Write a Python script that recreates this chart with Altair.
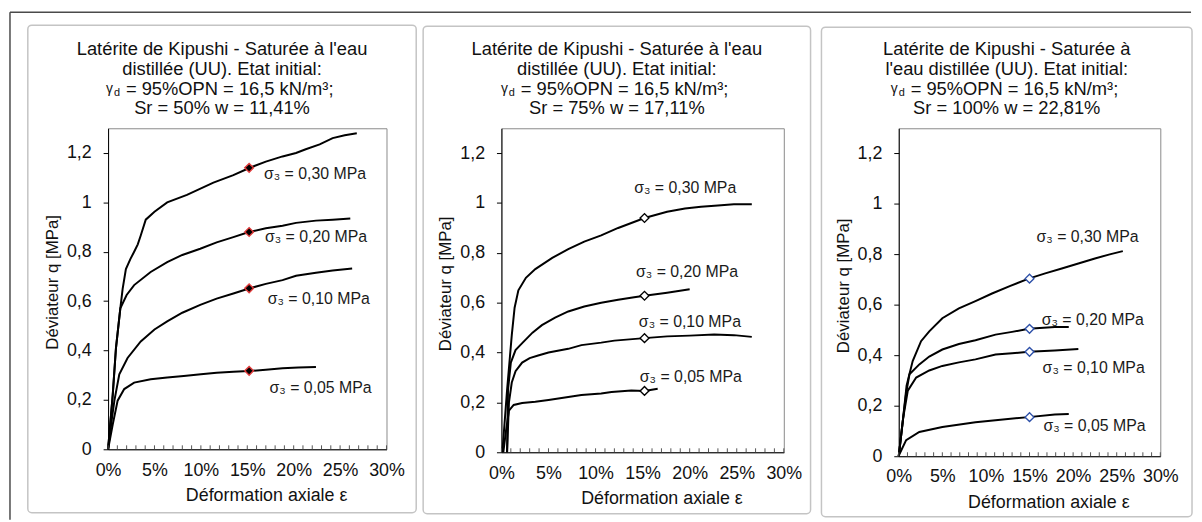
import altair as alt
import pandas as pd

FONT = "Liberation Sans"

STRAIN_TICKS = [0, 5, 10, 15, 20, 25, 30]
Q_TICKS = [0, 0.2, 0.4, 0.6, 0.8, 1.0, 1.2]
MINOR_TICKS = list(range(0, 31))
SIGMA_LABELS = ["σ₃ = 0,30 MPa", "σ₃ = 0,20 MPa", "σ₃ = 0,10 MPa", "σ₃ = 0,05 MPa"]

X_TITLE = "Déformation axiale ε"
Y_TITLE = "Déviateur q [MPa]"

P1_TITLE = ["Latérite de Kipushi - Saturée à l'eau", "distillée (UU). Etat initial:",
            "= 95%OPN = 16,5 kN/m³;", "Sr = 50% w = 11,41%"]
P2_TITLE = ["Latérite de Kipushi - Saturée à l'eau", "distillée (UU). Etat initial:",
            "= 95%OPN = 16,5 kN/m³;", "Sr = 75% w = 17,11%"]
P3_TITLE = ["Latérite de Kipushi - Saturée à", "l'eau distillée (UU). Etat initial:",
            "= 95%OPN = 16,5 kN/m³;", "Sr = 100% w = 22,81%"]

# ---- Panel 1 : Sr = 50 % ----
P1_S030_X = [0, 0.5, 0.85, 1.32, 1.57, 1.92, 2.4, 2.81, 3.2, 3.52, 4.06, 5.0, 6.37, 8.5, 11.35, 13.5, 15.27, 17.0, 18.8, 20.25, 21.3, 22.8, 24.2, 25.5, 26.8]
P1_S030_Y = [0, 0.22, 0.41, 0.571, 0.65, 0.73, 0.77, 0.80, 0.83, 0.866, 0.93, 0.962, 1.0, 1.03, 1.08, 1.11, 1.14, 1.165, 1.186, 1.2, 1.215, 1.235, 1.26, 1.272, 1.28]
P1_S020_X = [0, 0.5, 0.85, 1.32, 2.0, 2.81, 4.59, 6.37, 8.0, 9.93, 11.7, 13.5, 15.1, 17.0, 18.8, 20.25, 22.4, 24.2, 26.1]
P1_S020_Y = [0, 0.22, 0.41, 0.571, 0.625, 0.665, 0.718, 0.758, 0.787, 0.812, 0.838, 0.859, 0.879, 0.895, 0.905, 0.917, 0.926, 0.93, 0.935]
P1_S010_X = [0, 0.4, 0.68, 1.21, 2.1, 3.52, 5.0, 6.37, 8.0, 9.93, 11.7, 13.5, 15.27, 17.0, 18.8, 20.25, 22.4, 24.2, 26.3]
P1_S010_Y = [0, 0.12, 0.197, 0.304, 0.37, 0.437, 0.485, 0.518, 0.553, 0.585, 0.61, 0.631, 0.652, 0.67, 0.685, 0.703, 0.715, 0.724, 0.732]
P1_S005_X = [0, 0.5, 1.03, 1.74, 2.81, 4.59, 6.37, 8.15, 10.0, 11.7, 13.5, 15.16, 17.0, 18.8, 20.5, 22.4]
P1_S005_Y = [0, 0.1, 0.197, 0.244, 0.27, 0.284, 0.291, 0.297, 0.304, 0.31, 0.314, 0.317, 0.322, 0.328, 0.331, 0.333]
P1_MARK_X = [15.2, 15.2, 15.2, 15.2]
P1_MARK_Q = [1.14, 0.88, 0.652, 0.318]
P1_LABEL_X = [16.8, 16.9, 17.2, 17.4]
P1_LABEL_Q = [1.116, 0.859, 0.61, 0.249]

# ---- Panel 2 : Sr = 75 % ----
P2_S030_X = [0.1, 0.6, 1.1, 1.4, 1.8, 2.6, 3.6, 5.4, 7.1, 8.8, 10.6, 12.4, 15.2, 17.6, 19.5, 21.2, 23.0, 24.7, 26.6]
P2_S030_Y = [0, 0.25, 0.47, 0.58, 0.65, 0.70, 0.735, 0.78, 0.815, 0.845, 0.87, 0.9, 0.94, 0.965, 0.978, 0.985, 0.99, 0.995, 0.995]
P2_S020_X = [0.6, 0.7, 1.0, 1.5, 2.0, 3.3, 4.3, 5.7, 7.1, 8.8, 10.6, 12.4, 14.1, 15.2, 17.6, 20.0]
P2_S020_Y = [0, 0.25, 0.36, 0.41, 0.43, 0.48, 0.51, 0.54, 0.565, 0.585, 0.6, 0.612, 0.622, 0.628, 0.64, 0.654]
P2_S010_X = [0.6, 0.8, 1.1, 1.5, 2.2, 3.0, 3.9, 5.0, 7.1, 8.5, 10.6, 12.0, 15.2, 17.6, 20.0, 22.6, 24.7, 26.6]
P2_S010_Y = [0, 0.2, 0.28, 0.325, 0.36, 0.378, 0.388, 0.40, 0.415, 0.43, 0.44, 0.448, 0.458, 0.465, 0.468, 0.473, 0.47, 0.463]
P2_S005_X = [0.2, 0.5, 0.8, 1.3, 2.2, 3.6, 5.0, 7.1, 8.5, 10.6, 11.7, 13.8, 15.2, 16.6]
P2_S005_Y = [0, 0.09, 0.167, 0.19, 0.198, 0.203, 0.21, 0.222, 0.23, 0.236, 0.242, 0.248, 0.246, 0.255]
P2_MARK_X = [15.2, 15.2, 15.2, 15.2]
P2_MARK_Q = [0.94, 0.628, 0.458, 0.246]
P2_LABEL_X = [14.1, 14.3, 14.6, 14.7]
P2_LABEL_Q = [1.059, 0.724, 0.522, 0.302]

# ---- Panel 3 : Sr = 100 % ----
P3_S030_X = [0, 0.5, 0.9, 1.6, 2.56, 3.5, 5.0, 6.9, 8.8, 10.7, 12.8, 14.9, 16.8, 18.7, 20.6, 22.5, 24.2, 25.7]
P3_S030_Y = [0, 0.15, 0.28, 0.377, 0.456, 0.495, 0.547, 0.586, 0.615, 0.645, 0.675, 0.704, 0.725, 0.744, 0.764, 0.784, 0.8, 0.813]
P3_S020_X = [0, 0.5, 0.85, 1.23, 2.36, 3.5, 5.0, 6.9, 8.8, 11.1, 13.0, 14.9, 17.9, 19.5]
P3_S020_Y = [0, 0.15, 0.25, 0.325, 0.364, 0.395, 0.423, 0.445, 0.46, 0.482, 0.493, 0.505, 0.512, 0.512]
P3_S010_X = [0, 0.5, 1.04, 2.0, 3.5, 5.0, 6.9, 8.8, 11.1, 13.0, 14.9, 17.9, 20.6]
P3_S010_Y = [0, 0.15, 0.26, 0.312, 0.34, 0.358, 0.372, 0.384, 0.403, 0.408, 0.414, 0.419, 0.425]
P3_S005_X = [0, 0.1, 0.85, 2.36, 5.0, 8.8, 11.1, 14.9, 17.9, 19.5]
P3_S005_Y = [0, 0.01, 0.064, 0.096, 0.116, 0.135, 0.143, 0.155, 0.165, 0.167]
P3_MARK_X = [15.0, 15.0, 15.0, 15.0]
P3_MARK_Q = [0.704, 0.505, 0.414, 0.155]
P3_LABEL_X = [15.8, 16.4, 16.5, 16.6]
P3_LABEL_Q = [0.869, 0.541, 0.35, 0.121]

ONE = pd.DataFrame({"k": [0]})


def curves_df(xs_list, ys_list):
    rows = []
    for k, (xs, ys) in enumerate(zip(xs_list, ys_list)):
        for i, (x, y) in enumerate(zip(xs, ys)):
            rows.append({"strain": x, "q": y, "curve": SIGMA_LABELS[k], "idx": i})
    return pd.DataFrame(rows)


def panel(title, curves, mark_x, mark_q, lab_x, lab_q, W, H, cx, box, mfill, mstroke, frame=None):
    xs = alt.Scale(domain=[0, 30], nice=False, zero=False)
    ys = alt.Scale(domain=[0, 1.3], nice=False, zero=False)
    xaxis = alt.Axis(values=STRAIN_TICKS, labelExpr="datum.value + '%'", ticks=False, tickSize=0,
                     labelPadding=12, labelFontSize=18, labelFont=FONT, labelColor="#111",
                     domainColor="black", domainWidth=1, grid=False, labelFlush=False,
                     labelOverlap=False, title=X_TITLE, titleFont=FONT, titleFontSize=18,
                     titleFontWeight="normal", titleColor="#111", titleX=W / 2 + 19, titleY=47,
                     titleBaseline="middle", titleAlign="center")
    yaxis = alt.Axis(values=Q_TICKS, labelExpr="replace(format(datum.value, '.1~f'), '.', ',')",
                     tickSize=5, tickColor="black", labelPadding=12, labelFontSize=18,
                     labelFont=FONT, labelColor="#111", domainColor="black", domainWidth=1,
                     grid=False, labelFlush=False, labelOverlap=False, title=Y_TITLE,
                     titleFont=FONT, titleFontSize=17, titleFontWeight="normal",
                     titleColor="#111", titleX=-56, titleY=H / 2 - 7,
                     titleBaseline="middle", titleAlign="center")
    X = lambda: alt.X("strain:Q", scale=xs, axis=xaxis)
    Y = lambda: alt.Y("q:Q", scale=ys, axis=yaxis)
    layers = []
    bx0, bx1, by0, by1 = box
    layers.append(alt.Chart(ONE).mark_rect(fillOpacity=0, stroke="#c4c4c4", strokeWidth=1.5,
                                           cornerRadius=4).encode(
        x=alt.value(bx0), x2=alt.value(bx1), y=alt.value(by0), y2=alt.value(by1)))
    if frame is not None:
        fx0, fx1, fy0, fy1 = frame
        layers.append(alt.Chart(ONE).mark_rule(color="#4a4a4a", strokeWidth=1.5).encode(
            x=alt.value(fx0), y=alt.value(fy0), y2=alt.value(fy1)))
        layers.append(alt.Chart(ONE).mark_rule(color="#4a4a4a", strokeWidth=1.5).encode(
            x=alt.value(fx0), x2=alt.value(fx1), y=alt.value(fy0)))
    layers.append(alt.Chart(curves).mark_line(color="black", strokeWidth=2).encode(
        x=X(), y=Y(), detail="curve:N", order="idx:Q"))
    layers.append(alt.Chart(pd.DataFrame({"strain": MINOR_TICKS})).mark_rule(
        color="#555", strokeWidth=1).encode(
        x=X(), y=alt.value(H), y2=alt.value(H - 4)))
    mdf = pd.DataFrame({"strain": mark_x, "q": mark_q})
    layers.append(alt.Chart(mdf).mark_point(shape="diamond", filled=True, fill=mfill,
                                            stroke=mstroke, strokeWidth=1.4, size=78,
                                            opacity=1).encode(x=X(), y=Y()))
    ldf = pd.DataFrame({"strain": lab_x, "q": lab_q, "label": SIGMA_LABELS})
    layers.append(alt.Chart(ldf).mark_text(align="left", baseline="middle", fontSize=16,
                                           font=FONT, color="#1a1a1a").encode(
        x=X(), y=Y(), text="label:N"))
    # title block
    for ly, line in zip([-80, -60, -20], [title[0], title[1], title[3]]):
        layers.append(alt.Chart(ONE).mark_text(align="center", baseline="middle", fontSize=18.5,
                                               font=FONT, color="#111").encode(
            x=alt.value(cx), y=alt.value(ly), text=alt.value(line)))
    layers.append(alt.Chart(ONE).mark_text(align="left", baseline="middle", fontSize=14,
                                           font=FONT, color="#111").encode(
        x=alt.value(cx - 117), y=alt.value(-40), text=alt.value("γ")))
    layers.append(alt.Chart(ONE).mark_text(align="left", baseline="middle", fontSize=11,
                                           font=FONT, color="#111").encode(
        x=alt.value(cx - 109), y=alt.value(-36), text=alt.value("d")))
    layers.append(alt.Chart(ONE).mark_text(align="left", baseline="middle", fontSize=18.5,
                                           font=FONT, color="#111").encode(
        x=alt.value(cx - 97), y=alt.value(-40), text=alt.value(title[2])))
    return alt.layer(*layers).properties(width=W, height=H)


p1 = panel(P1_TITLE,
           curves_df([P1_S030_X, P1_S020_X, P1_S010_X, P1_S005_X],
                     [P1_S030_Y, P1_S020_Y, P1_S010_Y, P1_S005_Y]),
           P1_MARK_X, P1_MARK_Q, P1_LABEL_X, P1_LABEL_Q,
           W=281, H=324, cx=115, box=(-81, 311, -104, 388),
           mfill="black", mstroke="#e23b3b", frame=(-99, 1093, -117, 395))
p2 = panel(P2_TITLE,
           curves_df([P2_S030_X, P2_S020_X, P2_S010_X, P2_S005_X],
                     [P2_S030_Y, P2_S020_Y, P2_S010_Y, P2_S005_Y]),
           P2_MARK_X, P2_MARK_Q, P2_LABEL_X, P2_LABEL_Q,
           W=285, H=327, cx=116.5, box=(-79, 312, -103, 389),
           mfill="white", mstroke="black")
p3 = panel(P3_TITLE,
           curves_df([P3_S030_X, P3_S020_X, P3_S010_X, P3_S005_X],
                     [P3_S030_Y, P3_S020_Y, P3_S010_Y, P3_S005_Y]),
           P3_MARK_X, P3_MARK_Q, P3_LABEL_X, P3_LABEL_Q,
           W=264, H=331, cx=109, box=(-78, 296, -102, 392),
           mfill="white", mstroke="#2c4fa8")

chart = alt.hconcat(p1, p2, p3, spacing=116, bounds="flush").properties(
    padding=0, background="white"
).configure_view(stroke="#8a8a8a", strokeWidth=1)

chart.save("out.html", embed_options={"renderer": "svg", "actions": False})
